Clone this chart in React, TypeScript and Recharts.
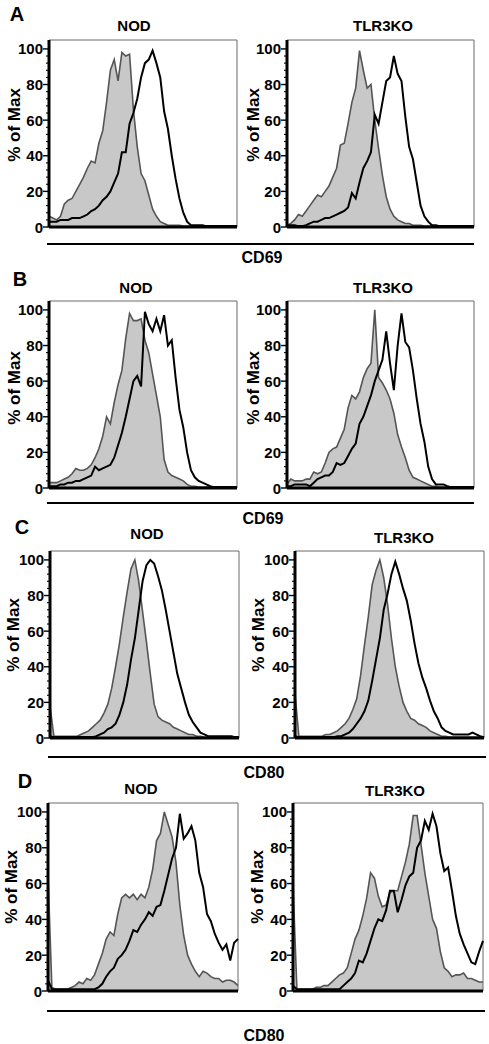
import React from 'react';
import { ComposedChart, Area, Line, XAxis, YAxis, ReferenceLine } from 'recharts';

// ---- tick values ----
const Y_TICKS = [0, 4, 8, 12, 16, 20, 24, 28, 32, 36, 40, 44, 48, 52, 56, 60, 64, 68, 72, 76, 80, 84, 88, 92, 96, 100];
const Y_LABELED = [0, 20, 40, 60, 80, 100];
const GROUPS = ['NOD', 'TLR3KO'];
const MARKERS = ['CD69', 'CD69', 'CD80', 'CD80'];
const LETTERS = ['A', 'B', 'C', 'D'];

// ---- histogram series (% of max, 50 equally spaced channels) ----
const A_NOD_GRAY = [6, 5, 4, 6, 13, 15, 16, 20, 24, 28, 33, 37, 36, 47, 54, 70, 88, 94, 82, 98, 96, 97, 66, 45, 30, 26, 18, 10, 6, 3, 2, 1, 1, 1, 1, 0.5, 0.5, 0.5, 0.5, 0.5, 0.5, 0.5, 0.5, 0.5, 0.5, 0.5, 0.5, 0.5, 0.5, 0.5];
const A_NOD_BLACK = [3, 3, 3, 4, 4, 4, 5, 5, 5, 6, 7, 9, 10, 12, 15, 17, 20, 25, 30, 42, 42, 58, 64, 72, 84, 92, 94, 99, 92, 84, 65, 55, 40, 27, 16, 8, 3, 1, 1, 1, 1, 0.5, 0.5, 0.5, 0.5, 0.5, 0.5, 0.5, 0.5, 0.5];
const A_TLR_GRAY = [1, 2, 4, 7, 6, 9, 12, 15, 18, 17, 20, 23, 28, 33, 46, 47, 58, 70, 78, 99, 88, 78, 80, 60, 44, 29, 17, 10, 6, 4, 3, 2, 2, 1, 1, 1, 0.5, 0.5, 0.5, 0.5, 0.5, 0.5, 0.5, 0.5, 0.5, 0.5, 0.5, 0.5, 0.5, 0.5];
const A_TLR_BLACK = [1, 1, 1, 0.5, 0.5, 1, 2, 3, 3, 4, 5, 5, 6, 7, 8, 9, 11, 19, 16, 25, 33, 37, 42, 63, 58, 70, 82, 84, 96, 86, 82, 62, 45, 38, 25, 12, 6, 3, 1, 1, 0.5, 0.5, 0.5, 0.5, 0.5, 0.5, 0.5, 0.5, 0.5, 0.5];

const B_NOD_GRAY = [3, 3, 3, 4, 5, 6, 8, 11, 10, 10, 11, 13, 17, 22, 29, 40, 36, 48, 58, 66, 84, 98, 94, 94, 95, 83, 76, 64, 52, 40, 16, 9, 7, 6, 5, 4, 2, 1, 1, 0.5, 0.5, 0.5, 0.5, 0.5, 0.5, 0.5, 0.5, 0.5, 0.5, 0.5];
const B_NOD_BLACK = [1, 1, 1, 2, 2, 3, 3, 4, 4, 5, 6, 7, 12, 10, 11, 12, 13, 17, 24, 31, 40, 50, 60, 63, 57, 99, 92, 88, 95, 88, 97, 80, 83, 62, 44, 34, 20, 10, 6, 4, 3, 2, 1, 0.5, 0.5, 0.5, 0.5, 0.5, 0.5, 0.5];
const B_TLR_GRAY = [2, 5, 4, 4, 4, 5, 5, 9, 8, 9, 14, 20, 22, 23, 28, 33, 45, 52, 50, 54, 62, 67, 70, 100, 62, 59, 55, 50, 42, 30, 23, 17, 10, 6, 5, 4, 3, 2, 1, 1, 0.5, 0.5, 0.5, 0.5, 0.5, 0.5, 0.5, 0.5, 0.5, 0.5];
const B_TLR_BLACK = [1, 1, 2, 2, 2, 2, 1, 3, 5, 6, 7, 7, 9, 14, 13, 14, 18, 22, 25, 36, 40, 46, 52, 60, 66, 72, 88, 70, 55, 80, 98, 82, 79, 66, 50, 36, 26, 12, 5, 2, 2, 2, 1, 0.5, 0.5, 0.5, 0.5, 0.5, 0.5, 0.5];

const C_NOD_GRAY = [18, 1, 1, 1, 1, 1, 1, 1, 2, 3, 4, 6, 8, 10, 14, 19, 28, 40, 53, 68, 82, 95, 100, 88, 71, 54, 36, 19, 12, 10, 9, 8, 6, 5, 4, 3, 2, 2, 1, 1, 0.5, 0.5, 0.5, 0.5, 0.5, 0.5, 0.5, 0.5, 0.5, 0.5];
const C_NOD_BLACK = [1, 0.5, 0.5, 0.5, 0.5, 0.5, 0.5, 0.5, 0.5, 0.5, 0.5, 0.5, 1, 2, 3, 5, 6, 8, 13, 20, 30, 44, 56, 72, 88, 97, 100, 98, 91, 83, 72, 60, 48, 36, 28, 20, 13, 9, 6, 3, 2, 1, 1, 1, 1, 1, 1, 1, 0.5, 0.5];
const C_TLR_GRAY = [25, 1, 1, 1, 1, 1, 1, 1, 2, 2, 3, 4, 6, 8, 11, 16, 22, 35, 52, 68, 86, 94, 100, 90, 75, 56, 40, 29, 20, 15, 11, 10, 8, 7, 6, 4, 3, 2, 1, 1, 0.5, 0.5, 0.5, 0.5, 0.5, 0.5, 0.5, 0.5, 0.5, 0.5];
const C_TLR_BLACK = [1, 0.5, 0.5, 0.5, 0.5, 0.5, 0.5, 0.5, 0.5, 0.5, 0.5, 1, 1, 2, 3, 5, 8, 11, 15, 21, 32, 44, 56, 72, 81, 92, 99, 92, 84, 77, 66, 53, 42, 34, 28, 21, 15, 11, 6, 4, 3, 2, 2, 2, 2, 2, 3, 2, 1, 0.5];

const D_NOD_GRAY = [65, 2, 1, 1, 1, 1, 2, 3, 5, 4, 7, 6, 9, 15, 21, 29, 33, 31, 43, 52, 54, 52, 54, 51, 54, 52, 58, 68, 84, 88, 100, 93, 86, 72, 48, 31, 20, 15, 11, 8, 11, 10, 8, 7, 7, 5, 6, 6, 5, 3];
const D_NOD_BLACK = [6, 1, 1, 1, 1, 1, 1, 1, 1, 1, 1, 1, 1, 2, 4, 8, 11, 13, 18, 20, 23, 28, 34, 33, 37, 40, 44, 42, 47, 48, 56, 65, 74, 80, 99, 85, 88, 92, 84, 66, 58, 43, 39, 32, 27, 23, 26, 17, 27, 29];
const D_TLR_GRAY = [60, 1, 1, 1, 1, 1, 2, 2, 3, 3, 5, 7, 9, 10, 13, 21, 29, 34, 42, 52, 66, 63, 53, 47, 48, 55, 56, 56, 64, 72, 82, 98, 98, 82, 66, 53, 40, 35, 22, 13, 11, 8, 9, 9, 10, 7, 7, 6, 5, 5];
const D_TLR_BLACK = [3, 1, 1, 1, 1, 1, 1, 1, 1, 1, 1, 1, 1, 3, 5, 7, 10, 17, 16, 21, 28, 35, 40, 39, 45, 56, 56, 44, 51, 59, 64, 66, 80, 84, 95, 90, 99, 92, 77, 67, 69, 56, 42, 32, 26, 21, 16, 15, 22, 28];

const FONT = "'Liberation Sans', Arial, Helvetica, sans-serif";
const YW = 45;
const MT = 6;
const MR = 4;
const XH = 4;
const MB = 10;

type PanelProps = {
  left: number;
  right: number;
  top: number;
  bottom: number;
  gray: number[];
  black: number[];
};

const YTick = (props: any) => {
  const { y, payload } = props;
  const v = payload.value;
  const major = Y_LABELED.includes(v);
  return (
    <g>
      <line x1={YW - (major ? 6 : 3)} x2={YW} y1={y} y2={y} stroke="#000" strokeWidth={major ? 1.4 : 1.1} />
      {major && (
        <text x={YW - 6} y={y} textAnchor="end" dominantBaseline="central" fontFamily={FONT} fontWeight="bold" fontSize={15} fill="#000">
          {v}
        </text>
      )}
    </g>
  );
};

function Panel({ left, right, top, bottom, gray, black }: PanelProps) {
  const w = right - left + YW + MR;
  const h = bottom - top + MT + XH + MB;
  const n = gray.length - 1;
  const data = gray.map((g, i) => ({ ch: i, gray: g, black: black[i] }));
  return (
    <div style={{ position: 'absolute', left: left - YW, top: top - MT }}>
      <ComposedChart width={w} height={h} data={data} margin={{ top: MT, right: MR, bottom: MB, left: 0 }}>
        <XAxis dataKey="ch" type="number" domain={[0, n]} tick={false} tickLine={false} axisLine={{ stroke: '#000', strokeWidth: 3 }} height={XH} />
        <YAxis type="number" domain={[0, 105]} ticks={Y_TICKS} interval={0} width={YW} tickLine={false} axisLine={{ stroke: '#000', strokeWidth: 3 }} tick={<YTick />} allowDataOverflow />
        <ReferenceLine y={105} stroke="#6a6a6a" strokeWidth={1} />
        <ReferenceLine x={n} stroke="#6a6a6a" strokeWidth={1} />
        <Area dataKey="gray" type="linear" fill="#c8c8c8" fillOpacity={1} stroke="#555" strokeWidth={1.6} dot={false} activeDot={false} isAnimationActive={false} />
        <Line dataKey="black" type="linear" stroke="#000" strokeWidth={2} dot={false} activeDot={false} isAnimationActive={false} />
      </ComposedChart>
    </div>
  );
}

const PANELS = [
  { left: 49, right: 237, top: 40, bottom: 227, gray: A_NOD_GRAY, black: A_NOD_BLACK },
  { left: 287, right: 474, top: 40, bottom: 227, gray: A_TLR_GRAY, black: A_TLR_BLACK },
  { left: 49, right: 237, top: 301, bottom: 488, gray: B_NOD_GRAY, black: B_NOD_BLACK },
  { left: 287, right: 474, top: 301, bottom: 488, gray: B_TLR_GRAY, black: B_TLR_BLACK },
  { left: 50, right: 239, top: 551, bottom: 738, gray: C_NOD_GRAY, black: C_NOD_BLACK },
  { left: 295, right: 484, top: 551, bottom: 738, gray: C_TLR_GRAY, black: C_TLR_BLACK },
  { left: 48, right: 238, top: 803, bottom: 991, gray: D_NOD_GRAY, black: D_NOD_BLACK },
  { left: 293, right: 483, top: 803, bottom: 991, gray: D_TLR_GRAY, black: D_TLR_BLACK },
];

// row layout for text overlay
const ROWS = [
  { letter: [17, 14], titles: [[134, 25], [383, 25]], ylab: [[14, 125], [253, 125]], line: [47, 474, 244], marker: [262, 257] },
  { letter: [20, 279], titles: [[136, 287], [383, 287]], ylab: [[14, 388], [253, 388]], line: [47, 474, 503], marker: [263, 518] },
  { letter: [22, 527], titles: [[147, 533], [404, 537]], ylab: [[13, 635], [258, 635]], line: [48, 486, 757], marker: [264, 772] },
  { letter: [25, 781], titles: [[141, 788], [395, 790]], ylab: [[11, 887], [257, 887]], line: [47, 485, 1011], marker: [264, 1035] },
];

export default function App() {
  return (
    <div style={{ position: 'absolute', left: 0, top: 0, width: 489, height: 1044, background: '#fff', overflow: 'hidden' }}>
      {PANELS.map((p, i) => (
        <Panel key={i} {...p} />
      ))}
      <svg width={489} height={1044} style={{ position: 'absolute', left: 0, top: 0, pointerEvents: 'none' }}>
        {ROWS.map((r, i) => (
          <g key={i} fontFamily={FONT} fontWeight="bold" fill="#000">
            <text x={r.letter[0]} y={r.letter[1]} textAnchor="middle" dominantBaseline="central" fontSize={20}>
              {LETTERS[i]}
            </text>
            {r.titles.map((t, j) => (
              <text key={j} x={t[0]} y={t[1]} textAnchor="middle" dominantBaseline="central" fontSize={15}>
                {GROUPS[j]}
              </text>
            ))}
            {r.ylab.map((t, j) => (
              <text key={j} x={t[0]} y={t[1]} textAnchor="middle" dominantBaseline="central" fontSize={17} transform={`rotate(-90 ${t[0]} ${t[1]})`}>
                % of Max
              </text>
            ))}
            <line x1={r.line[0]} x2={r.line[1]} y1={r.line[2]} y2={r.line[2]} stroke="#000" strokeWidth={2} />
            <text x={r.marker[0]} y={r.marker[1]} textAnchor="middle" dominantBaseline="central" fontSize={16}>
              {MARKERS[i]}
            </text>
          </g>
        ))}
      </svg>
    </div>
  );
}
